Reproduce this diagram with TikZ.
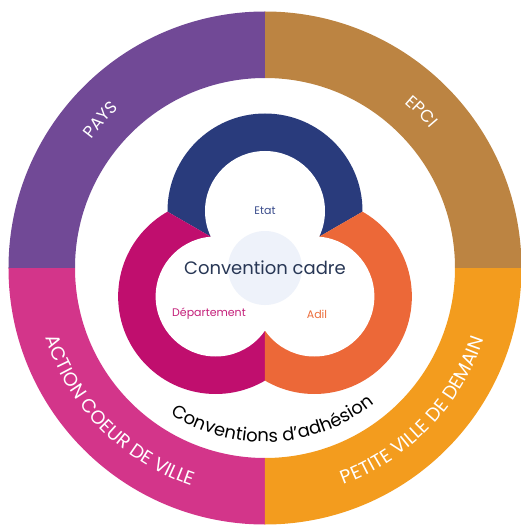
\documentclass[tikz,border=0pt]{standalone}
\usepackage{fontspec}
\setmainfont{Poppins}
\usepackage{tikz}
\usetikzlibrary{decorations.text}
\definecolor{pays}{HTML}{714996}
\definecolor{epci}{HTML}{BC8442}
\definecolor{acv}{HTML}{D3358A}
\definecolor{pvd}{HTML}{F39C1E}
\definecolor{etat}{HTML}{293B7C}
\definecolor{dept}{HTML}{C00E6E}
\definecolor{adil}{HTML}{EC6838}
\definecolor{cadre}{HTML}{EEF2FA}
\definecolor{cadretext}{HTML}{283755}
\definecolor{etattext}{HTML}{3A4C8C}
\definecolor{depttext}{HTML}{C4207A}
\definecolor{adiltext}{HTML}{EC6E3C}
\newcommand{\ringfont}{\fontsize{19}{19}\selectfont}
\newcommand{\shortfont}{\fontsize{17}{17}\selectfont}
\newcommand{\adhesionfont}{\fontsize{18}{18}\selectfont}
\tikzstyle{partner} = [inner sep=0pt, font=\fontsize{11}{11}\selectfont]
\tikzstyle{ringtext} = [decorate, decoration={text along path, text align=center, text color=white}]

\begin{document}
\begin{tikzpicture}[x=1pt, y=1pt]
\useasboundingbox (-265,-257) rectangle (256,268);
% outer ring
\foreach \a/\col in {0/epci,90/pays,180/acv,270/pvd}
  \fill[\col] (\a:256.5) arc[start angle=\a, end angle=\a+90, radius=256.5] -- (\a+90:190) arc[start angle=\a+90, end angle=\a, radius=190] -- cycle;
% trefoil
\foreach \a/\b/\col in {30/150/etat,150/270/dept,270/390/adil} {
  \begin{scope}
  \clip (0,0) -- (\a:170) arc[start angle=\a, end angle=\b, radius=170] -- cycle;
  \fill[\col] (\a+60:57) circle[radius=97.5];
  \end{scope}
}
\foreach \a in {90,210,330}
  \fill[white] (\a:57) circle[radius=60];
\fill[cadre] (0,0) circle[radius=37];
% texts
\node[partner, text=etattext] (etat) at (0,57) {Etat};
\node[partner, text=depttext] (departement) at (-56,-46) {Département};
\node[partner, text=adiltext] (adil) at (52,-46) {Adil};
\node[font=\fontsize{18}{18}\selectfont, text=cadretext] (cadre) at (0,0) {Convention cadre};
\path[decorate, decoration={text along path, text align=center, text={|\adhesionfont|Conventions d’adhésion}}] (228:174) arc[start angle=228, end angle=318, radius=174];
\path[ringtext, decoration={text={|\shortfont|PAYS}}] (158:216) arc[start angle=158, end angle=118, radius=216];
\path[ringtext, decoration={text={|\shortfont|EPCI}}] (65:216) arc[start angle=65, end angle=25, radius=216];
\path[ringtext, decoration={text={|\ringfont|ACTION COEUR DE VILLE}}] (182:230) arc[start angle=182, end angle=267, radius=230];
\path[ringtext, decoration={text={|\ringfont|PETITE VILLE DE DEMAIN}}] (274:230) arc[start angle=274, end angle=358, radius=230];
\end{tikzpicture}
\end{document}
